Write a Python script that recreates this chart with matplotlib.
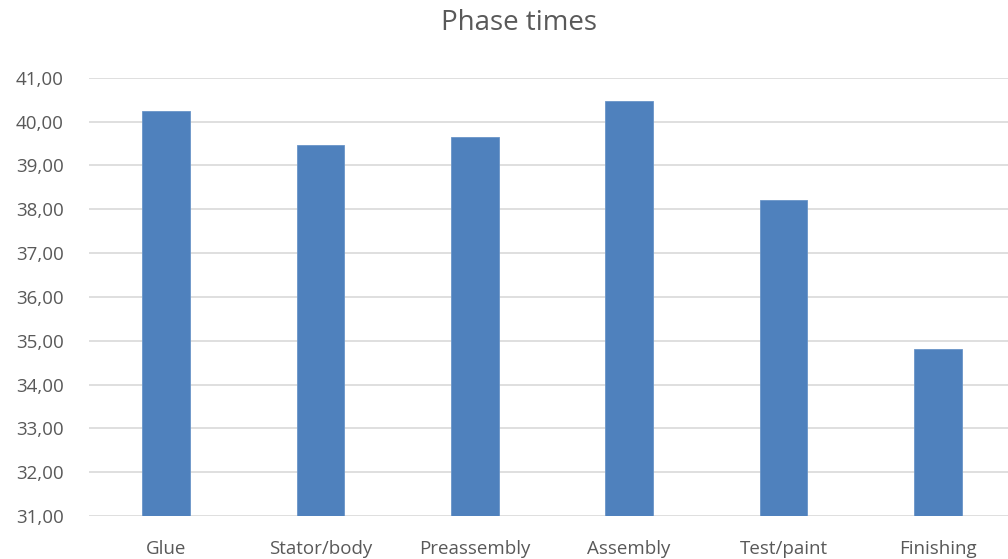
import matplotlib
matplotlib.use("Agg")
import matplotlib.pyplot as plt
from matplotlib.ticker import FuncFormatter

phases = ["Glue", "Stator/body", "Preassembly", "Assembly", "Test/paint", "Finishing"]
times = [40.24, 39.46, 39.64, 40.47, 38.22, 34.80]

plt.rcParams["font.family"] = ["Open Sans", "DejaVu Sans"]
TXT = "#595959"

fig = plt.figure(figsize=(10.08, 5.59), dpi=100)
ax = fig.add_axes([89 / 1008, 1 - 516 / 559, 1 - 89 / 1008, (516 - 77.7) / 559])

x = range(len(phases))
ax.bar(x, [t - 31 for t in times], bottom=31, width=0.31, color="#4f81bd",
       edgecolor="#6a95c8", linewidth=0.6, zorder=3)

ax.set_ylim(31, 41)
ax.set_xlim(-0.5, 5.455)
ax.set_yticks(range(31, 42))
ax.yaxis.set_major_formatter(FuncFormatter(lambda v, _: f"{v:.2f}".replace(".", ",")))
ax.grid(axis="y", color="#d9d9d9", linewidth=1.2, zorder=0)
ax.set_xticks(list(x))
ax.set_xticklabels(phases)
for s in ax.spines.values():
    s.set_visible(False)
ax.tick_params(axis="both", length=0, labelsize=13.5, colors=TXT)
ax.tick_params(axis="x", pad=17)
ax.tick_params(axis="y", pad=18)
fig.text(0.515, 0.958, "Phase times", ha="center", va="center", fontsize=20, color=TXT)

fig.savefig("out.png", dpi=100)
